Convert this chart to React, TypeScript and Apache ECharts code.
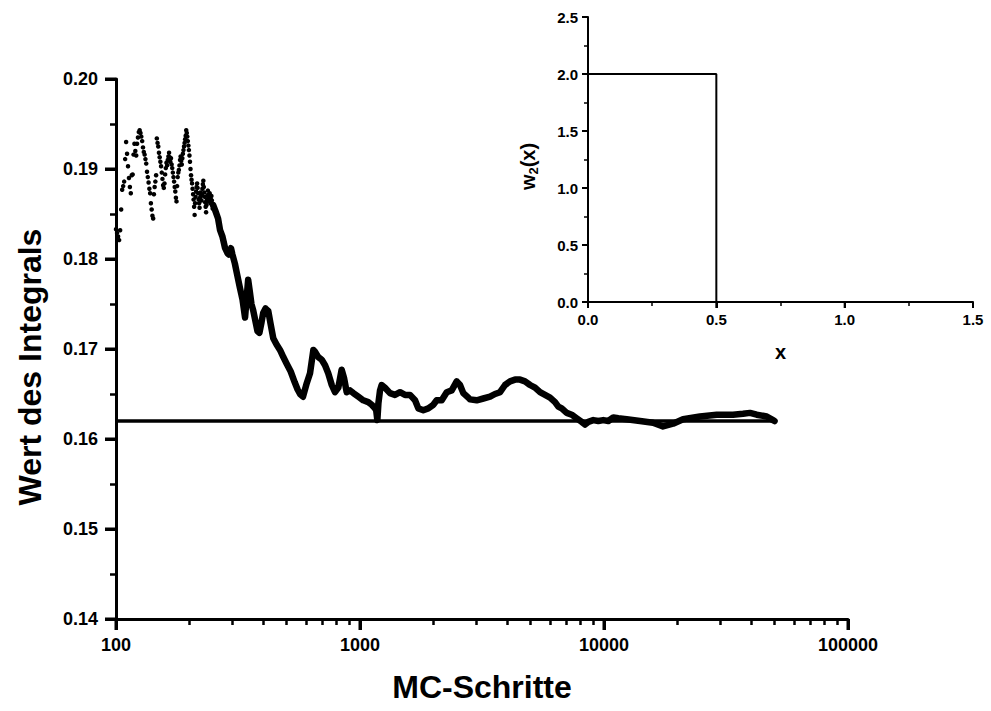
import React, { useEffect, useRef } from "react";
import * as echarts from "echarts";

// Early MC steps (individual dots)
const earlySteps = [
  100, 101, 102, 103, 104, 105, 106, 107, 108, 109, 110, 111, 112, 113, 114, 115, 116, 117, 118, 119,
  120, 121, 122, 123, 124, 125, 126, 127, 128, 129, 130, 131, 132, 133, 134, 135, 136, 137, 138, 139,
  140, 141, 142, 143, 144, 145, 146, 147, 148, 149, 150, 151, 152, 153, 154, 155, 156, 157, 158, 159,
  160, 161, 162, 163, 164, 165, 166, 167, 168, 169, 170, 171, 172, 173, 174, 175, 176, 177, 178, 179,
  180, 181, 182, 183, 184, 185, 186, 187, 188, 189, 190, 191, 192, 193, 194, 195, 196, 197, 198, 199,
  200, 201, 202, 203, 204, 205, 206, 207, 208, 209, 210, 211, 212, 213, 214, 215, 216, 217, 218, 219,
  220, 221, 222, 223, 224, 225, 226, 227, 228, 229, 230, 231, 232, 233, 234, 235, 236, 237, 238, 239,
  240, 241, 242, 243, 244, 245, 246, 247, 248, 249, 250,
];
const earlyValues = [
  0.1833, 0.1829, 0.1825, 0.1821, 0.1832, 0.1855, 0.1877, 0.1881, 0.1886, 0.1911, 0.193, 0.1917, 0.1903, 0.189, 0.188, 0.1873, 0.1893, 0.1894, 0.1916, 0.1928,
  0.192, 0.1915, 0.1928, 0.1935, 0.1941, 0.1943, 0.194, 0.1936, 0.1931, 0.1924, 0.1919, 0.1916, 0.1911, 0.1906, 0.1897, 0.1891, 0.1885, 0.1878, 0.1873, 0.1862,
  0.1855, 0.1848, 0.1845, 0.1872, 0.188, 0.1886, 0.1893, 0.1934, 0.1929, 0.1925, 0.1918, 0.1913, 0.1908, 0.1903, 0.1896, 0.1889, 0.1882, 0.1879, 0.1884, 0.1894,
  0.1901, 0.1907, 0.1904, 0.191, 0.1914, 0.1918, 0.1913, 0.1908, 0.1912, 0.1905, 0.1901, 0.1896, 0.1891, 0.1886, 0.188, 0.1875, 0.1868, 0.1864, 0.1881, 0.1891,
  0.1896, 0.1899, 0.1904, 0.191, 0.1914, 0.1909, 0.1905, 0.1912, 0.1917, 0.1921, 0.1925, 0.1929, 0.1933, 0.1937, 0.1943, 0.194, 0.1936, 0.1931, 0.1926, 0.1921,
  0.1915, 0.1908, 0.19, 0.1893, 0.1888, 0.1884, 0.1878, 0.1872, 0.1866, 0.1858, 0.1849, 0.1862, 0.1869, 0.1875, 0.188, 0.1884, 0.1879, 0.1873, 0.1866, 0.1862,
  0.1857, 0.1868, 0.1874, 0.187, 0.1865, 0.1871, 0.1878, 0.1883, 0.1887, 0.188, 0.1874, 0.1869, 0.1863, 0.1858, 0.1852, 0.186, 0.1866, 0.1871, 0.1876, 0.187,
  0.1864, 0.1869, 0.1873, 0.1868, 0.1862, 0.1866, 0.187, 0.1865, 0.186, 0.1856, 0.186,
];

// Later MC steps (dense band)
const bandSteps = [
  250, 255, 262, 267, 273, 280, 287, 290, 296, 300, 307, 314, 322, 330, 338, 344, 348, 353, 359, 365,
  372, 380, 387, 395, 401, 410, 421, 430, 441, 455, 470, 485, 500, 520, 540, 555, 568, 584, 605, 624,
  644, 654, 675, 697, 719, 741, 766, 790, 815, 841, 860, 882, 910, 939, 984, 1031, 1081, 1117, 1152, 1165,
  1178, 1190, 1208, 1227, 1266, 1327, 1391, 1459, 1529, 1603, 1681, 1734, 1817, 1905, 1997, 2062, 2162, 2267, 2376, 2491,
  2570, 2651, 2779, 2823, 3008, 3202, 3411, 3576, 3749, 3930, 4120, 4319, 4527, 4746, 4976, 5216, 5468, 5733, 6010, 6300,
  6499, 6710, 7034, 7374, 7731, 8104, 8360, 8625, 9040, 9476, 9934, 10414, 10917, 11444, 12388, 14047, 15878, 17451, 19180, 21080,
  24740, 28970, 33790, 37130, 39660, 42260, 46450, 49280, 50000,
];
const bandValues = [
  0.186, 0.1854, 0.1845, 0.1832, 0.1825, 0.1812, 0.1806, 0.1805, 0.1812, 0.1805, 0.1795, 0.1782, 0.1768, 0.1755, 0.1735, 0.176, 0.1777, 0.1765, 0.175, 0.1743,
  0.1732, 0.172, 0.1718, 0.173, 0.174, 0.1745, 0.1742, 0.1728, 0.1712, 0.1705, 0.1699, 0.1691, 0.1684, 0.1675, 0.1663, 0.1655, 0.165, 0.1647, 0.1662, 0.1673,
  0.1699, 0.1697, 0.1691, 0.1688, 0.1682, 0.1673, 0.166, 0.1652, 0.1657, 0.1677, 0.1668, 0.1652, 0.1654, 0.1651, 0.1647, 0.1643, 0.1641, 0.1638, 0.1634, 0.1632,
  0.1621, 0.164, 0.1654, 0.166, 0.1657, 0.1651, 0.1649, 0.1652, 0.1649, 0.1649, 0.1643, 0.1634, 0.1632, 0.1634, 0.1638, 0.1643, 0.1643, 0.1652, 0.1654, 0.1664,
  0.166, 0.1651, 0.1646, 0.1644, 0.1643, 0.1645, 0.1647, 0.165, 0.1652, 0.166, 0.1664, 0.1666, 0.1666, 0.1664, 0.166, 0.1657, 0.1652, 0.1649, 0.1646, 0.1641,
  0.1636, 0.1634, 0.1629, 0.1627, 0.1623, 0.1619, 0.1616, 0.1619, 0.1621, 0.162, 0.1621, 0.162, 0.1624, 0.1623, 0.1622, 0.162, 0.1618, 0.1614, 0.1617, 0.1622,
  0.1625, 0.1627, 0.1627, 0.1628, 0.1629, 0.1627, 0.1625, 0.1621, 0.162,
];

// Exact value reference line
const refSteps = [100, 50000];
const refValue = 0.162;

// Major tick values
const mainXTicks = [100, 1000, 10000, 100000];
const mainYTicks = [0.14, 0.15, 0.16, 0.17, 0.18, 0.19, 0.2];
const insetXTicks = [0, 0.5, 1, 1.5];
const insetYTicks = [0, 0.5, 1, 1.5, 2, 2.5];

// Inset: density w2(x)
const insetX = [0, 0.5, 0.5, 1.5];
const insetW = [2, 2, 0, 0];

const FONT = "'Liberation Sans', Arial, sans-serif";

export default function App() {
  const ref = useRef<HTMLDivElement>(null);

  useEffect(() => {
    if (!ref.current) return;
    const chart = echarts.init(ref.current, null, { renderer: "svg" });
    const black = "#000";
    const tickLabel = (size: number) => ({
      fontFamily: FONT,
      fontWeight: "bold" as const,
      fontSize: size,
      color: black,
    });

    chart.setOption({
      animation: false,
      backgroundColor: "#fff",
      grid: [
        { left: 116, top: 79, width: 732, height: 540 },
        { left: 588, top: 17, width: 385, height: 285 },
      ],
      xAxis: [
        {
          type: "log",
          gridIndex: 0,
          logBase: 10,
          min: 100,
          max: 100000,
          name: "MC-Schritte",
          nameLocation: "middle",
          nameGap: 52,
          nameTextStyle: { ...tickLabel(32) },
          axisLine: { show: true, onZero: false, lineStyle: { color: black, width: 3 } },
          axisTick: { show: true, length: 11, lineStyle: { color: black, width: 3 } },
          minorTick: { show: true, splitNumber: 9, length: 6, lineStyle: { color: black, width: 2.5 } },
          axisLabel: { show: true, ...tickLabel(18), margin: 17, formatter: (v: number) => String(Math.round(v)) },
          splitLine: { show: false },
          minorSplitLine: { show: false },
        },
        {
          type: "value",
          gridIndex: 1,
          min: 0,
          max: 1.5,
          interval: 0.5,
          name: "x",
          nameLocation: "middle",
          nameGap: 40,
          nameTextStyle: { ...tickLabel(20) },
          axisLine: { show: true, onZero: false, lineStyle: { color: black, width: 2 } },
          axisTick: { show: true, length: 6, lineStyle: { color: black, width: 2 } },
          minorTick: { show: true, splitNumber: 2, length: 4, lineStyle: { color: black, width: 1.5 } },
          axisLabel: { show: true, ...tickLabel(15), margin: 10, formatter: (v: number) => v.toFixed(1) },
          splitLine: { show: false },
        },
      ],
      yAxis: [
        {
          type: "value",
          gridIndex: 0,
          min: 0.14,
          max: 0.2,
          interval: 0.01,
          name: "Wert des Integrals",
          nameLocation: "middle",
          nameGap: 70,
          nameTextStyle: { ...tickLabel(32), padding: [0, 36, 0, 0] },
          axisLine: { show: true, onZero: false, lineStyle: { color: black, width: 3 } },
          axisTick: { show: true, length: 11, lineStyle: { color: black, width: 3 } },
          minorTick: { show: true, splitNumber: 2, length: 6, lineStyle: { color: black, width: 2.5 } },
          axisLabel: { show: true, ...tickLabel(18), margin: 18, formatter: (v: number) => v.toFixed(2) },
          splitLine: { show: false },
        },
        {
          type: "value",
          gridIndex: 1,
          min: 0,
          max: 2.5,
          interval: 0.5,
          name: "{a|w}{b|2}{a|(x)}",
          nameLocation: "middle",
          nameGap: 48,
          nameTextStyle: {
            padding: [0, 14, 0, 0],
            rich: {
              a: { ...tickLabel(20), lineHeight: 24 },
              b: { ...tickLabel(13), verticalAlign: "bottom", lineHeight: 24, padding: [4, 0, 0, 0] },
            },
          },
          axisLine: { show: true, onZero: false, lineStyle: { color: black, width: 2 } },
          axisTick: { show: true, length: 6, lineStyle: { color: black, width: 2 } },
          minorTick: { show: true, splitNumber: 2, length: 4, lineStyle: { color: black, width: 1.5 } },
          axisLabel: { show: true, ...tickLabel(15), margin: 10, formatter: (v: number) => v.toFixed(1) },
          splitLine: { show: false },
        },
      ],
      series: [
        {
          type: "line",
          name: "exakt",
          xAxisIndex: 0,
          yAxisIndex: 0,
          data: refSteps.map((s) => [s, refValue]),
          showSymbol: false,
          lineStyle: { color: black, width: 3.5 },
          z: 2,
        },
        {
          type: "line",
          name: "MC band",
          xAxisIndex: 0,
          yAxisIndex: 0,
          data: bandSteps.map((s, i) => [s, bandValues[i]]),
          showSymbol: false,
          lineStyle: { color: black, width: 6.5, join: "round", cap: "round" },
          z: 3,
        },
        {
          type: "scatter",
          name: "MC",
          xAxisIndex: 0,
          yAxisIndex: 0,
          data: earlySteps.map((s, i) => [s, earlyValues[i]]),
          symbol: "circle",
          symbolSize: 4.5,
          itemStyle: { color: black, opacity: 1 },
          z: 4,
        },
        {
          type: "line",
          name: "w2",
          xAxisIndex: 1,
          yAxisIndex: 1,
          data: insetX.map((x, i) => [x, insetW[i]]),
          showSymbol: false,
          lineStyle: { color: black, width: 2 },
        },
      ],
    });

    // Major tick marks, positioned through the chart's own axis scales
    const tickEls: any[] = [];
    const addTick = (x1: number, y1: number, x2: number, y2: number, w: number) =>
      tickEls.push({
        type: "line",
        silent: true,
        z: 50,
        shape: { x1, y1, x2, y2 },
        style: { stroke: black, lineWidth: w },
      });
    mainXTicks.forEach((v) => {
      const p = chart.convertToPixel({ gridIndex: 0 }, [v, mainYTicks[0]]) as number[];
      if (p) addTick(p[0], p[1], p[0], p[1] + 11, 3);
    });
    mainYTicks.forEach((v) => {
      const p = chart.convertToPixel({ gridIndex: 0 }, [mainXTicks[0], v]) as number[];
      if (p) addTick(p[0] - 11, p[1], p[0], p[1], 3);
    });
    insetXTicks.forEach((v) => {
      const p = chart.convertToPixel({ gridIndex: 1 }, [v, insetYTicks[0]]) as number[];
      if (p) addTick(p[0], p[1], p[0], p[1] + 6, 2);
    });
    insetYTicks.forEach((v) => {
      const p = chart.convertToPixel({ gridIndex: 1 }, [insetXTicks[0], v]) as number[];
      if (p) addTick(p[0] - 6, p[1], p[0], p[1], 2);
    });
    chart.setOption({ graphic: { elements: tickEls } });

    return () => chart.dispose();
  }, []);

  return (
    <div
      ref={ref}
      style={{ position: "fixed", left: 0, top: 0, width: 991, height: 711, background: "#fff" }}
    />
  );
}
